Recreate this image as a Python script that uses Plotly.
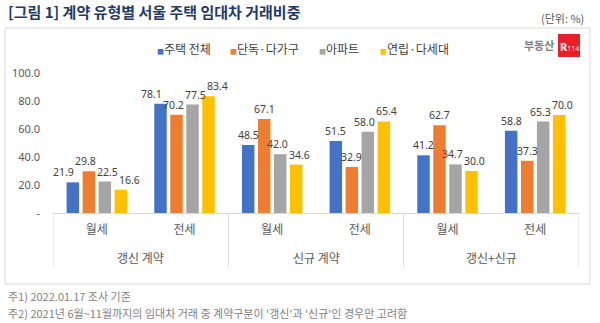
import plotly.graph_objects as go

# ---- data ----
groups = ["갱신 계약", "신규 계약", "갱신+신규"]
subcats = ["월세", "전세", "월세", "전세", "월세", "전세"]
series_names = ["주택 전체", "단독·다가구", "아파트", "연립·다세대"]
series_colors = ["#4472C4", "#ED7D31", "#A5A5A5", "#FFC000"]
v_total = [21.9, 78.1, 48.5, 51.5, 41.2, 58.8]
v_detached = [29.8, 70.2, 67.1, 32.9, 62.7, 37.3]
v_apt = [22.5, 77.5, 42.0, 58.0, 34.7, 65.3]
v_multi = [16.6, 83.4, 34.6, 65.4, 30.0, 70.0]
y_ticks = [0, 20, 40, 60, 80, 100]
y_ticktext = ["-", "20.0", "40.0", "60.0", "80.0", "100.0"]
title_text = "[그림 1] 계약 유형별 서울 주택 임대차 거래비중"
unit_text = "(단위: %)"
notes = ["주1) 2022.01.17 조사 기준",
         "주2) 2021년 6월~11월까지의 임대차 거래 중 계약구분이 '갱신'과 '신규'인 경우만 고려함"]

W, H = 600, 323
L, R, T, B = 53, 579, 73, 213  # plot area in pixels

def xp(px):
    return (px - L) / (R - L)

def yp(py):
    return (B - py) / (B - T)

FONT = "Noto Sans, Noto Sans CJK KR, sans-serif"
KFONT = "Noto Sans CJK KR, Noto Sans, sans-serif"

BARGAP = 0.27
BARGROUPGAP = 0.22
all_vals = [v_total, v_detached, v_apt, v_multi]
nser = len(all_vals)
xs = list(range(len(subcats)))
fig = go.Figure()
for name, color, vals in zip(series_names, series_colors, all_vals):
    fig.add_trace(go.Bar(
        x=xs, y=vals, name=name, marker=dict(color=color, line=dict(width=0)),
        showlegend=False, hoverinfo="skip",
    ))

annotations = []
# data labels: anchored on each bar, spread apart horizontally where they would collide
px_per_x = (R - L) / 6.0
px_per_y = (B - T) / 100.0
slot = (1 - BARGAP) / nser
label_w = 21.0
for i in xs:
    offs = [(k - (nser - 1) / 2) * slot for k in range(nser)]
    pos = [o * px_per_x for o in offs]
    base = list(pos)
    ypx = [all_vals[k][i] * px_per_y for k in range(nser)]
    for _ in range(60):
        for j in range(nser - 1):
            if abs(ypx[j] - ypx[j + 1]) < 13 and pos[j + 1] - pos[j] < label_w + 1:
                d = (label_w + 1 - (pos[j + 1] - pos[j])) / 2
                pos[j] -= d
                pos[j + 1] += d
    for k in range(nser):
        v = all_vals[k][i]
        annotations.append(dict(text=f"{v:.1f}", xref="x", yref="y", x=i + offs[k], y=v,
                                xanchor="center", yanchor="bottom", yshift=1,
                                xshift=pos[k] - base[k], showarrow=False,
                                font=dict(family=FONT, size=10.5, color="#404040")))

shapes = []
# outer frame
shapes.append(dict(type="rect", xref="paper", yref="paper",
                   x0=xp(5), x1=xp(590), y0=yp(284), y1=yp(28),
                   line=dict(color="#d9d9d9", width=1), layer="below"))
# group dividers
for xv in [-0.5, 1.5, 3.5, 5.5]:
    shapes.append(dict(type="line", xref="x", yref="paper", x0=xv, x1=xv,
                       y0=yp(213), y1=yp(267), line=dict(color="#d9d9d9", width=1)))
# logo red box
shapes.append(dict(type="rect", xref="paper", yref="paper",
                   x0=xp(558), x1=xp(580), y0=yp(57), y1=yp(34),
                   fillcolor="#E8202A", line=dict(width=0)))

# title
annotations.append(dict(text=f"<b>{title_text}</b>", xref="paper", yref="paper",
                        x=xp(6), y=yp(11), xanchor="left", yanchor="middle", showarrow=False,
                        font=dict(family=KFONT, size=15, color="#1F3A68")))
annotations.append(dict(text=unit_text, xref="paper", yref="paper",
                        x=xp(586), y=yp(18), xanchor="right", yanchor="middle", showarrow=False,
                        font=dict(family=KFONT, size=11, color="#595959")))
# legend
leg_x = [155, 228, 317, 378]
for name, color, lx in zip(series_names, series_colors, leg_x):
    annotations.append(dict(
        text=f"<span style='color:{color};font-size:7px'>■</span>{name}",
        xref="paper", yref="paper", x=xp(lx), y=yp(49), xanchor="left", yanchor="middle",
        showarrow=False, font=dict(family=KFONT, size=12, color="#404040")))
# group labels
for i, g in enumerate(groups):
    annotations.append(dict(text=g, xref="x", yref="paper", x=2 * i + 0.5, y=yp(257),
                            xanchor="center", yanchor="middle", showarrow=False,
                            font=dict(family=KFONT, size=12, color="#595959")))
# logo
annotations.append(dict(text="<b>부동산</b>", xref="paper", yref="paper", x=xp(556), y=yp(45),
                        xanchor="right", yanchor="middle", showarrow=False,
                        font=dict(family=KFONT, size=11, color="#7f7f7f")))
annotations.append(dict(text="<b>R</b><span style='font-size:7px'>114</span>", xref="paper", yref="paper",
                        x=xp(569), y=yp(46), xanchor="center", yanchor="middle", showarrow=False,
                        font=dict(family=FONT, size=11, color="white")))
# notes
for i, n in enumerate(notes):
    annotations.append(dict(text=n, xref="paper", yref="paper", x=xp(6), y=yp(296 + 17 * i),
                            xanchor="left", yanchor="middle", showarrow=False,
                            font=dict(family=KFONT, size=11, color="#7f7f7f")))

fig.update_layout(
    width=W, height=H, margin=dict(l=L, r=W - R, t=T, b=H - B),
    paper_bgcolor="white", plot_bgcolor="white",
    barmode="group", bargap=BARGAP, bargroupgap=BARGROUPGAP,
    shapes=shapes, annotations=annotations, showlegend=False,
    xaxis=dict(range=[-0.5, 5.5], tickvals=xs, ticktext=subcats, showgrid=False,
               zeroline=False, showline=True, linecolor="#d9d9d9", linewidth=1,
               ticks="", ticklabelstandoff=6,
               tickfont=dict(family=KFONT, size=12, color="#595959")),
    yaxis=dict(range=[0, 100], tickvals=y_ticks, ticktext=y_ticktext, showgrid=False,
               zeroline=False, showline=False, ticks="", ticklabelstandoff=12,
               tickfont=dict(family=FONT, size=11, color="#595959")),
)

fig.write_html("out.html")
